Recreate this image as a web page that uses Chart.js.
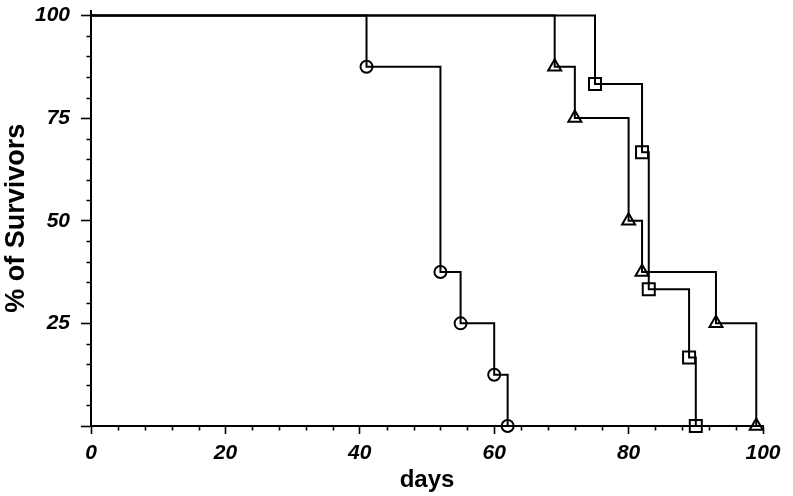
<!DOCTYPE html>
<html>
<head>
<meta charset="utf-8">
<script src="https://cdn.jsdelivr.net/npm/chart.js@4/dist/chart.umd.min.js"></script>
<style>
  html, body { margin: 0; padding: 0; background: #fff; }
  canvas { display: block; }
</style>
</head>
<body>
<canvas id="c" width="793" height="496"></canvas>
<script>
// ---- data ----
const circleDays   = [41, 52, 55, 60, 62];
const circleSurv   = [87.5, 37.5, 25, 12.5, 0];
const triangleDays = [69, 72, 80, 82, 93, 99];
const triangleSurv = [87.5, 75, 50, 37.5, 25, 0];
const squareDays   = [75, 82, 83, 89, 90];
const squareSurv   = [83.3, 66.7, 33.3, 16.7, 0];
const xTickValues  = [0, 20, 40, 60, 80, 100];
const yTickLabels  = ['', '25', '50', '75', '100'];
const xTitle = 'days';
const yTitle = '% of Survivors';

const FONT = "'Liberation Sans', Arial, Helvetica, sans-serif";

function km(days, surv) {
  return [{x: 0, y: 100}].concat(days.map((d, i) => ({x: d, y: surv[i]})));
}

function series(days, surv, style, r) {
  return {
    data: km(days, surv),
    stepped: 'before',
    borderColor: '#000',
    borderWidth: 2,
    backgroundColor: 'rgba(0,0,0,0)',
    pointStyle: style,
    pointRadius: ctx => ctx.dataIndex === 0 ? 0 : r,
    pointBorderColor: '#000',
    pointBackgroundColor: 'rgba(0,0,0,0)',
    pointBorderWidth: 2,
    fill: false,
    clip: false,
    tension: 0
  };
}

const minorTicks = {
  id: 'minorTicks',
  afterDraw(chart) {
    const {ctx, chartArea, scales} = chart;
    ctx.save();
    ctx.strokeStyle = '#000';
    ctx.lineWidth = 1.6;
    ctx.beginPath();
    for (let v = 0; v <= 100; v += 4) {
      if (v % 20 === 0) continue;
      const px = Math.round(scales.x.getPixelForValue(v)) + 0.5;
      ctx.moveTo(px, chartArea.bottom);
      ctx.lineTo(px, chartArea.bottom + 4.5);
    }
    for (let v = 0; v <= 100; v += 5) {
      if (v % 25 === 0) continue;
      const py = Math.round(scales.y.getPixelForValue(v)) + 0.5;
      ctx.moveTo(chartArea.left, py);
      ctx.lineTo(chartArea.left - 4.5, py);
    }
    ctx.stroke();
    ctx.restore();
  }
};

new Chart(document.getElementById('c'), {
  type: 'scatter',
  data: {
    datasets: [
      series(circleDays, circleSurv, 'circle', 6),
      series(triangleDays, triangleSurv, 'triangle', 7.5),
      series(squareDays, squareSurv, 'rect', 8.5)
    ]
  },
  options: {
    responsive: false,
    animation: false,
    showLine: true,
    layout: { padding: { top: 7, right: 30, left: 0, bottom: 0 } },
    plugins: { legend: { display: false }, tooltip: { enabled: false } },
    scales: {
      x: {
        type: 'linear',
        min: 0, max: 100,
        afterBuildTicks: s => { s.ticks = xTickValues.map(v => ({value: v})); },
        ticks: {
          color: '#000',
          padding: 7,
          maxRotation: 0,
          font: { family: FONT, size: 21, weight: 'bold', style: 'italic' },
          callback: v => String(v)
        },
        grid: { drawOnChartArea: false, drawTicks: true, tickLength: 8, tickWidth: 1.6, tickColor: '#000' },
        border: { display: true, color: '#000', width: 2 },
        title: {
          display: true, text: xTitle, color: '#000',
          font: { family: FONT, size: 24, weight: 'bold' },
          padding: { top: 0, bottom: 1 }
        },
        afterFit: s => { s.height = 70; s.paddingLeft = 0; s.paddingRight = 0; }
      },
      y: {
        type: 'linear',
        min: 0, max: 101.2,
        afterBuildTicks: s => { s.ticks = [0, 25, 50, 75, 100].map(v => ({value: v})); },
        ticks: {
          color: '#000',
          padding: 11,
          font: { family: FONT, size: 21, weight: 'bold', style: 'italic' },
          callback: (v, i) => yTickLabels[i]
        },
        grid: { drawOnChartArea: false, drawTicks: true, tickLength: 10, tickWidth: 1.6, tickColor: '#000' },
        border: { display: true, color: '#000', width: 2 },
        title: {
          display: true, text: yTitle, color: '#000',
          font: { family: FONT, size: 27, weight: 'bold' },
          padding: { top: 0, bottom: 0 }
        },
        afterFit: s => { s.width = 91; s.paddingTop = 0; s.paddingBottom = 0; }
      }
    }
  },
  plugins: [minorTicks]
});
</script>
</body>
</html>
